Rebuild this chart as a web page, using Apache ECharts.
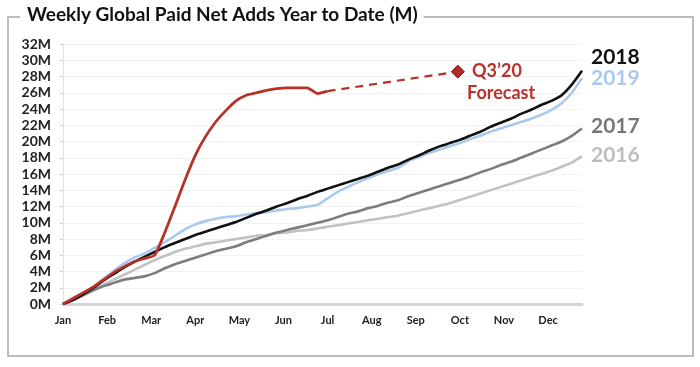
<!DOCTYPE html>
<html><head><meta charset="utf-8">
<script src="https://cdn.jsdelivr.net/npm/echarts@6/dist/echarts.min.js"></script>
<style>html,body{margin:0;padding:0;background:#fff}#c{width:700px;height:367px}</style>
</head><body><div id="c"></div>
<script>
const months = ['Jan','Feb','Mar','Apr','May','Jun','Jul','Aug','Sep','Oct','Nov','Dec'];
const yTicks = [0,2,4,6,8,10,12,14,16,18,20,22,24,26,28,30,32];
// weekly cumulative values (M), week 0..51
const s2018 = [0,0.5,1.2,2.0,2.9,3.7,4.5,5.2,5.8,6.4,7.0,7.5,8.0,8.5,8.9,9.3,9.7,10.1,10.6,11.1,11.5,12.0,12.4,12.9,13.3,13.8,14.2,14.6,15.0,15.4,15.8,16.3,16.8,17.2,17.8,18.3,18.9,19.4,19.8,20.2,20.7,21.2,21.8,22.3,22.8,23.4,23.9,24.5,25.0,25.7,27.0,28.7];
const s2019 = [0,0.6,1.3,2.1,3.1,4.1,5.0,5.7,6.2,6.9,7.6,8.4,9.2,9.8,10.2,10.5,10.7,10.8,11.0,11.2,11.3,11.5,11.7,11.8,12.0,12.2,13.0,13.8,14.4,15.0,15.5,16.0,16.4,16.8,17.6,18.1,18.6,19.0,19.4,19.8,20.3,20.7,21.2,21.6,22.0,22.4,22.8,23.3,23.9,24.7,26.0,27.8];
const s2017 = [0,0.5,1.1,1.7,2.2,2.6,3.0,3.2,3.4,3.8,4.4,4.9,5.3,5.7,6.1,6.5,6.8,7.1,7.6,8.0,8.4,8.8,9.1,9.4,9.7,10.0,10.3,10.7,11.1,11.4,11.8,12.1,12.5,12.8,13.3,13.7,14.1,14.5,14.9,15.3,15.7,16.2,16.6,17.1,17.5,18.0,18.5,19.0,19.5,20.0,20.7,21.6];
const s2016 = [0,0.5,1.1,1.8,2.4,3.0,3.6,4.2,4.8,5.4,5.9,6.4,6.8,7.1,7.4,7.6,7.8,8.0,8.2,8.4,8.5,8.7,8.8,9.0,9.1,9.3,9.5,9.7,9.9,10.1,10.3,10.5,10.7,10.9,11.2,11.5,11.8,12.1,12.4,12.8,13.2,13.6,14.0,14.4,14.8,15.2,15.6,16.0,16.4,16.9,17.4,18.2];
const s2020 = [0,0.7,1.4,2.1,3.0,3.9,4.6,5.2,5.6,6.0,8.8,12.0,15.3,18.3,20.6,22.4,23.8,25.0,25.7,26.0,26.3,26.5,26.6,26.6,26.6,25.9,26.2];
const forecastWeeks = [26, 38.8];
const forecastVals = [26.2, 28.6];
const weeksPerMonth = 52/12;

const toXY = arr => arr.map((v,i)=>[i,v]);
const chart = echarts.init(document.getElementById('c'));
const lineSeries = (name, data, color, z, w) => ({
  name, type:'line', data: toXY(data), showSymbol:false, symbol:'none', smooth:0.2,
  lineStyle:{color, width:w||2.6}, z
});
const lbl = (text, left, top, color, size) => ({ text, left, top, padding:0,
  textStyle:{fontFamily:'Lato', fontWeight:'bold', fontSize:size, color} });
chart.setOption({
  animation:false,
  backgroundColor:'#fff',
  title:[
    { text:'Weekly Global Paid Net Adds Year to Date (M)', left:21, top:5,
      backgroundColor:'#fff', padding:[0,6],
      textStyle:{fontFamily:'Lato', fontWeight:'bold', fontSize:19, color:'#111'} },
    lbl('2018', 591, 47, '#111', 21),
    lbl('2019', 591, 68, '#a9caee', 21),
    lbl('2017', 591, 116, '#777', 21),
    lbl('2016', 591, 145, '#bdbdbd', 21),
    lbl('Q3\u201920', 472, 62, '#b8312b', 18),
    lbl('Forecast', 467, 84, '#b8312b', 18)
  ],
  grid:{ left:63, right:118, top:44, bottom:63, containLabel:false },
  xAxis:{ type:'value', min:0, max:51, interval:weeksPerMonth,
    axisLine:{show:true, lineStyle:{color:'#d4d4d4', width:3}},
    axisTick:{show:false}, splitLine:{show:false},
    axisLabel:{ showMaxLabel:false, margin:11, fontFamily:'Lato', fontWeight:'bold', fontSize:11, color:'#222',
      formatter: v => { const i = Math.round(v/weeksPerMonth); return (Math.abs(v - i*weeksPerMonth) < 0.01 && i < 12) ? months[i] : ''; } } },
  yAxis:{ type:'value', min:0, max:32, interval:2,
    axisLine:{show:true, lineStyle:{color:'#e0e0e0', width:1}},
    axisTick:{show:true, length:3, inside:false, lineStyle:{color:'#ccc'}},
    splitLine:{show:true, lineStyle:{color:'#f2f2f2', width:1}},
    axisLabel:{ margin:12, fontFamily:'Lato', fontWeight:'bold', fontSize:14, color:'#222', formatter: v => v + 'M' } },
  series:[
    lineSeries('2016', s2016, '#c2c2c2', 2),
    lineSeries('2017', s2017, '#7d7d7d', 3),
    lineSeries('2019', s2019, '#a9caee', 4),
    lineSeries('2018', s2018, '#111111', 5),
    lineSeries('2020', s2020, '#b8312b', 6, 2.8),
    { name:'Forecast', type:'line',
      lineStyle:{color:'#b8312b', width:2.2, type:[8,6]}, symbol:'diamond', symbolSize:13,
      showSymbol:true,
      itemStyle:{color:'#b42a22', borderColor:'#7a1a15', borderWidth:1},
      z:6,
      data: [ {value:[forecastWeeks[0], forecastVals[0]], symbol:'none'}, {value:[forecastWeeks[1], forecastVals[1]]} ] }
  ],
  graphic:[
    { type:'polyline', z:-1, shape:{points:[[20,17],[8,17],[8,356],[693,356],[693,17],[412,17]]},
      style:{stroke:'#a8a8a8', lineWidth:1.5, fill:null} }
  ]
});
</script></body></html>
